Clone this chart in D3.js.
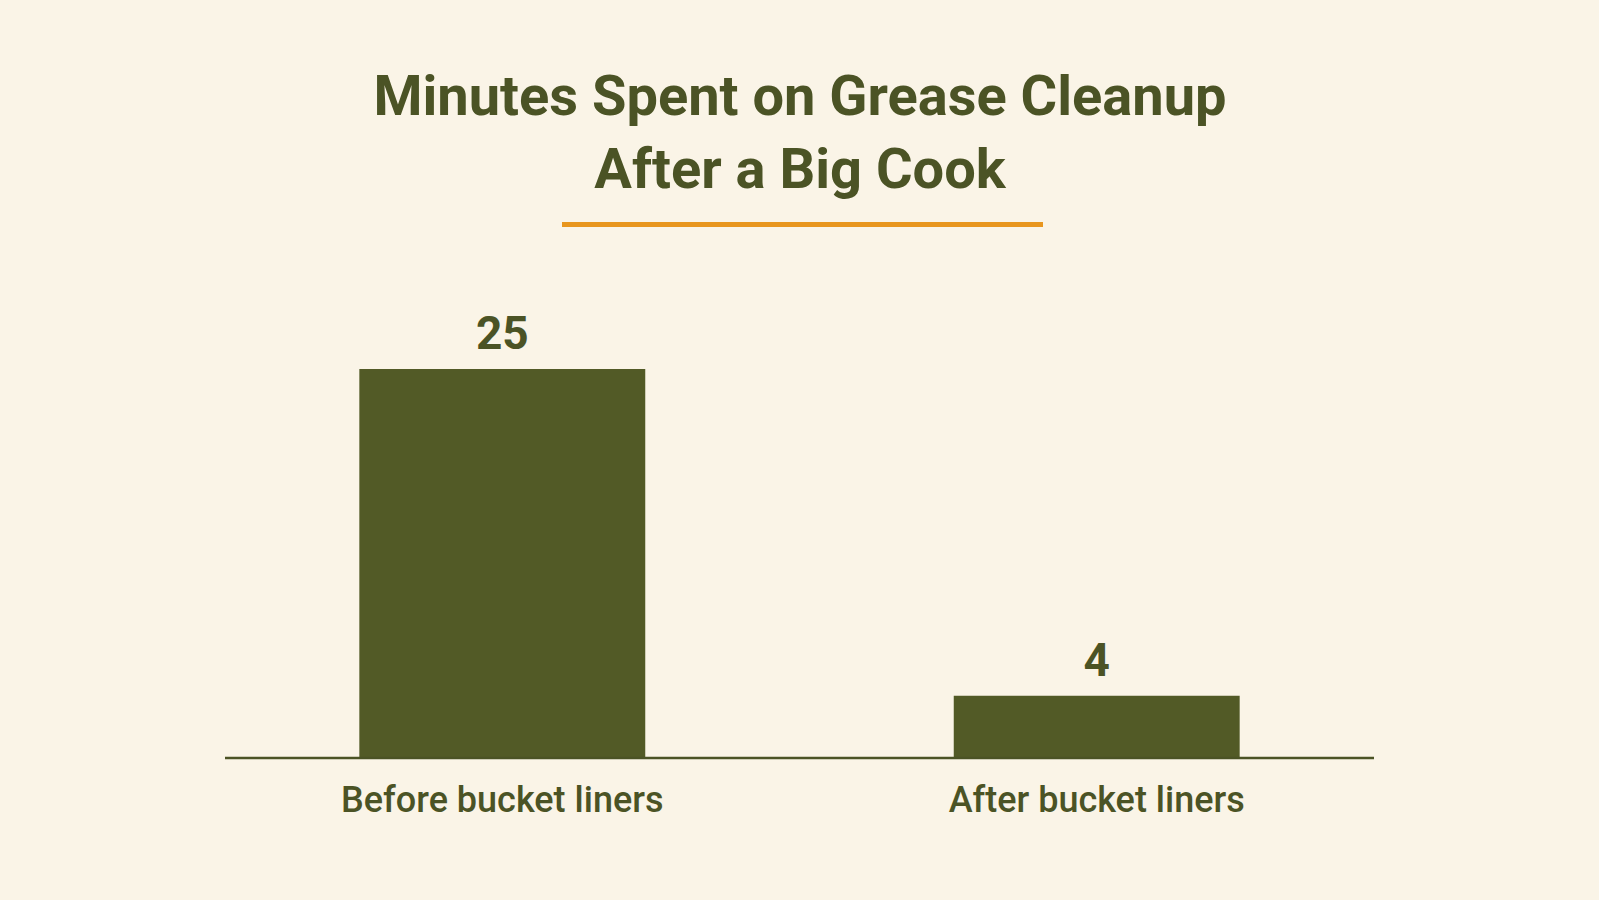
<!DOCTYPE html>
<html><head><meta charset="utf-8">
<script src="https://cdn.jsdelivr.net/npm/d3@7"></script>
<style>body{margin:0;background:#faf4e7}svg{display:block}</style>
</head><body>
<svg id="chart" width="1599" height="900"></svg>
<script>
var categories = ["Before bucket liners", "After bucket liners"];
var minutes = [25, 4];
var titleLines = ["Minutes Spent on Grease Cleanup", "After a Big Cook"];

var svg = d3.select("#chart");
var green = "#525a26", textGreen = "#4b5325";
var baseY = 758;

svg.append("rect").attr("width", 1599).attr("height", 900).style("fill", "#faf4e7");

svg.selectAll(".title").data(titleLines).enter().append("text")
	.attr("x", 800).attr("y", function (d, i) { return 115 + i * 73; })
	.style("text-anchor", "middle").style("font-family", "Roboto")
	.style("font-weight", 700).style("font-size", "56px").style("fill", textGreen)
	.text(function (d) { return d; });

svg.append("rect").attr("x", 562).attr("y", 222).attr("width", 481).attr("height", 5)
	.style("fill", "#e8961e");

var x = d3.scaleBand().domain(categories).range([225, 1374])
	.paddingInner(0.519).paddingOuter(0.226);
var y = d3.scaleLinear().domain([0, 25]).range([baseY, 369]);

svg.selectAll(".bar").data(minutes).enter().append("rect")
	.attr("x", function (d, i) { return x(categories[i]); })
	.attr("y", function (d) { return y(d); })
	.attr("width", x.bandwidth())
	.attr("height", function (d) { return baseY - y(d); })
	.style("fill", green);

svg.selectAll(".val").data(minutes).enter().append("text")
	.attr("x", function (d, i) { return x(categories[i]) + x.bandwidth() / 2; })
	.attr("y", function (d) { return y(d) - 20; })
	.style("text-anchor", "middle").style("font-family", "Roboto")
	.style("font-weight", 700).style("font-size", "46px").style("fill", textGreen)
	.text(function (d) { return d; });

svg.append("line").attr("x1", 225).attr("x2", 1374).attr("y1", baseY).attr("y2", baseY)
	.style("stroke", "#4b5325").style("stroke-width", 2.5);

svg.selectAll(".cat").data(categories).enter().append("text")
	.attr("x", function (d) { return x(d) + x.bandwidth() / 2; })
	.attr("y", 812)
	.style("text-anchor", "middle").style("font-family", "Roboto")
	.style("font-weight", 500).style("font-size", "36px").style("fill", textGreen)
	.text(function (d) { return d; });
</script>
</body></html>
